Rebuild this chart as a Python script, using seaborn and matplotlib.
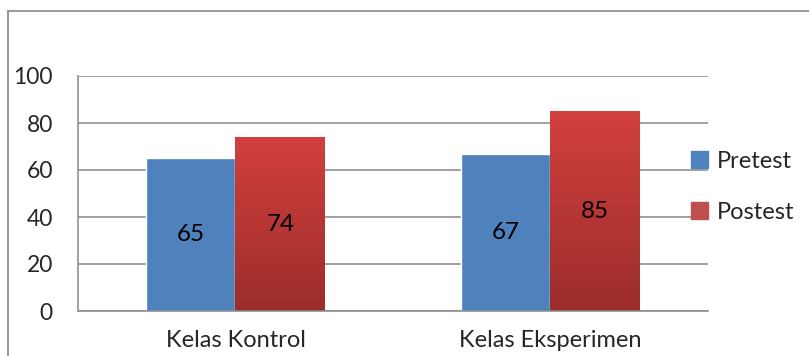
import numpy as np
import pandas as pd
import matplotlib
matplotlib.use('Agg')
import matplotlib.pyplot as plt
from matplotlib.lines import Line2D
from matplotlib.colors import LinearSegmentedColormap
import seaborn as sns

kelas = ['Kelas Kontrol', 'Kelas Eksperimen']
pretest = [65, 67]
postest = [74, 85]
series = ['Pretest', 'Postest']

df = pd.DataFrame({
    'kelas': kelas * 2,
    'tes': ['Pretest'] * 2 + ['Postest'] * 2,
    'nilai': pretest + postest,
})

sns.set_style('white')
plt.rcParams['font.family'] = ['Lato', 'DejaVu Sans']

blue = '#4F81BD'
red = '#C0504D'
grey = '#878787'

fig = plt.figure(figsize=(8.09, 3.56), dpi=100)
ax = fig.add_axes([78 / 809, 1 - 311 / 356, 630 / 809, 235 / 356])

sns.barplot(data=df, x='kelas', y='nilai', hue='tes', hue_order=series,
            palette=[blue, red], width=0.57, gap=0, saturation=1,
            ax=ax, legend=False)

ax.set_xlim(-0.5, 1.5)
ax.set_ylim(0, 100)
ax.set_yticks(range(0, 101, 20))
ax.set_xlabel('')
ax.set_ylabel('')

# gradient on the red bars
grad = LinearSegmentedColormap.from_list('rg', ['#9C2D2A', '#D1403E'])
for p in ax.containers[1]:
    x0, w, h = p.get_x(), p.get_width(), p.get_height()
    p.set_facecolor('none')
    p.set_edgecolor('none')
    ax.imshow(np.linspace(0, 1, 100).reshape(-1, 1), cmap=grad, origin='lower',
              extent=[x0, x0 + w, 0, h], aspect='auto', zorder=p.get_zorder())
ax.set_xlim(-0.5, 1.5)
ax.set_ylim(0, 100)

for c in ax.containers:
    ax.bar_label(c, label_type='center', fontsize=17.5, color='black')

ax.grid(axis='y', color=grey, lw=1.1)
ax.set_axisbelow(True)
for s in ['top', 'right']:
    ax.spines[s].set_visible(False)
for s in ['left', 'bottom']:
    ax.spines[s].set_color(grey)
    ax.spines[s].set_linewidth(1.1)

ax.tick_params(axis='y', length=6, width=1.1, color=grey, pad=12, labelsize=16.5)
ax.tick_params(axis='x', which='major', length=0, pad=14, labelsize=17)
ax.set_xticks([-0.5, 0.5, 1.5], minor=True)
ax.tick_params(axis='x', which='minor', length=4.5, width=1.1, color=grey)

handles = [plt.Rectangle((0, 0), 1, 1, color=blue),
           plt.Rectangle((0, 0), 1, 1, color=red)]
fig.legend(handles, series, loc='upper left', bbox_to_anchor=(691 / 809, 1 - 151 / 356),
           frameon=False, fontsize=17, handlelength=0.7, handleheight=0.7,
           handletextpad=0.4, labelspacing=1.25, borderpad=0, borderaxespad=0)

# chart area border (cropped: only top and left visible)
fig.add_artist(Line2D([8 / 809, 1], [1 - 11 / 356] * 2, transform=fig.transFigure,
                      color=grey, lw=1.2))
fig.add_artist(Line2D([8 / 809] * 2, [0, 1 - 11 / 356], transform=fig.transFigure,
                      color=grey, lw=1.2))

fig.savefig('out.png', dpi=100)
